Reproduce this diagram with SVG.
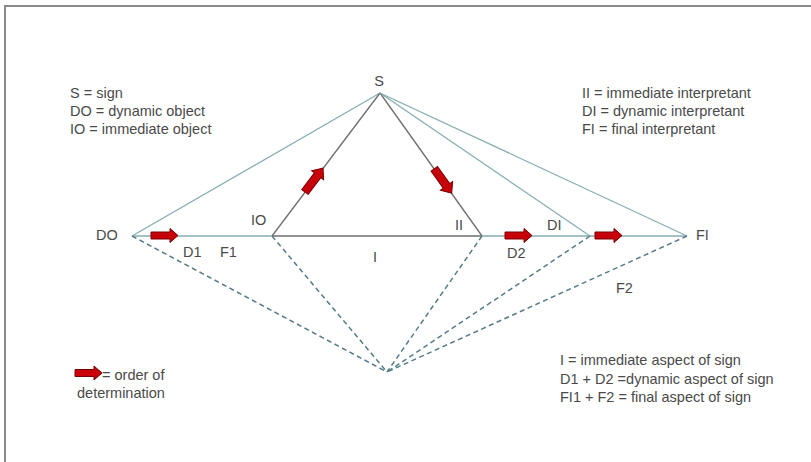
<svg xmlns="http://www.w3.org/2000/svg" xmlns:xlink="http://www.w3.org/1999/xlink" width="811" height="462" viewBox="0 0 811 462">
<style>
text{font-family:"Liberation Sans",Arial,sans-serif;font-size:14.5px;fill:#4a4a4a}
.teal{stroke:#86aeb2;stroke-width:1.3;fill:none}
.dark{stroke:#6e6e6e;stroke-width:1.3;fill:none}
.dash{stroke:#557c86;stroke-width:1.5;stroke-dasharray:5 3.5;fill:none}
.frame{stroke:#8a8a8a;stroke-width:2;fill:none}
.arr{fill:#c8000a;stroke:#7a0000;stroke-width:1}
</style>
<defs>
<path id="redarrow" class="arr" d="M-13.5,-3.5 H5.5 V-7 L13.5,0 L5.5,7 V3.5 H-13.5 Z"/>
<path id="redarrow2" class="arr" d="M-15,-4 H6 V-7.5 L15,0 L6,7.5 V4 H-15 Z"/>
</defs>
<rect width="811" height="462" fill="#ffffff"/>
<path class="frame" d="M5,462 V6 H811"/>

<g id="connectors">
<line class="teal" x1="380" y1="93" x2="132" y2="236"/>
<line class="dark" x1="380" y1="93" x2="272" y2="236"/>
<line class="dark" x1="380" y1="93" x2="482" y2="236"/>
<line class="teal" x1="380" y1="93" x2="590" y2="236"/>
<line class="teal" x1="380" y1="93" x2="687" y2="236"/>
<line class="teal" x1="132" y1="236" x2="272" y2="236"/>
<line class="dark" x1="272" y1="236" x2="482" y2="236"/>
<line class="teal" x1="482" y1="236" x2="687" y2="236"/>
<line class="dash" x1="132" y1="236" x2="387" y2="372"/>
<line class="dash" x1="272" y1="236" x2="387" y2="372"/>
<line class="dash" x1="482" y1="236" x2="387" y2="372"/>
<line class="dash" x1="590" y1="236" x2="387" y2="372"/>
<line class="dash" x1="687" y1="236" x2="387" y2="372"/>
<use xlink:href="#redarrow" transform="translate(164.5,235.5)"/>
<use xlink:href="#redarrow" transform="translate(518.5,235.5)"/>
<use xlink:href="#redarrow" transform="translate(608.5,235.5)"/>
<use xlink:href="#redarrow2" transform="translate(314,180) rotate(-52.9)"/>
<use xlink:href="#redarrow2" transform="translate(443,181) rotate(54.5)"/>
</g>

<g id="node-S"><text x="379" y="86" text-anchor="middle">S</text></g>
<g id="node-DO"><text x="96" y="240">DO</text></g>
<g id="node-IO"><text x="251" y="225">IO</text></g>
<g id="node-II"><text x="455" y="230">II</text></g>
<g id="node-DI"><text x="547" y="230">DI</text></g>
<g id="node-FI"><text x="696" y="240">FI</text></g>

<g id="segment-labels">
<text x="183" y="257">D1</text>
<text x="220" y="257">F1</text>
<text x="373" y="262">I</text>
<text x="507" y="258">D2</text>
<text x="616" y="293">F2</text>
</g>

<g id="legend-left">
<text x="70" y="98">S = sign</text>
<text x="70" y="116">DO = dynamic object</text>
<text x="70" y="134">IO = immediate object</text>
</g>

<g id="legend-right">
<text x="582" y="98">II = immediate interpretant</text>
<text x="582" y="116">DI = dynamic interpretant</text>
<text x="582" y="134">FI = final interpretant</text>
</g>

<g id="legend-bottom">
<text x="560" y="365">I = immediate aspect of sign</text>
<text x="560" y="384">D1 + D2 =dynamic aspect of sign</text>
<text x="560" y="402">FI1 + F2 = final aspect of sign</text>
</g>

<g id="legend-arrow">
<use xlink:href="#redarrow" transform="translate(88.5,373)"/>
<text x="102" y="380">= order of</text>
<text x="77" y="398">determination</text>
</g>
</svg>
